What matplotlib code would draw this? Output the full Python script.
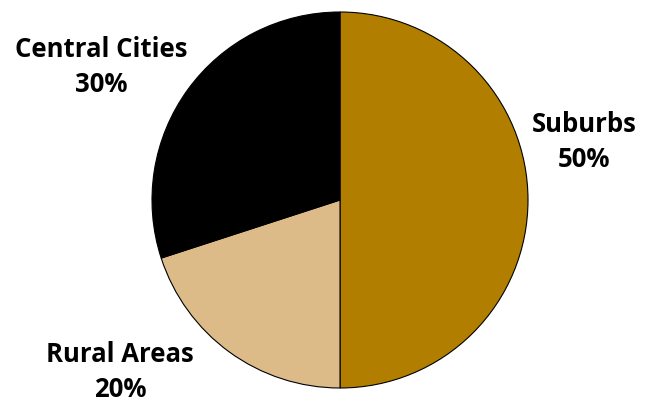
import matplotlib.pyplot as plt

labels = ['Suburbs', 'Rural Areas', 'Central Cities']
shares = [50, 20, 30]
colors = ['#B27E00', '#DCBB88', '#000000']

# label anchor points in pixel coords (x, y from top)
label_pos = [(584, 142), (120, 372), (101, 67)]

W, H = 646, 403
fig = plt.figure(figsize=(W / 100, H / 100), dpi=100)
ax = fig.add_axes([0, 0, 1, 1])

ax.pie(shares, colors=colors, startangle=90, counterclock=False,
       center=(340, H - 200), radius=188,
       wedgeprops=dict(edgecolor='black', linewidth=0.8))
ax.set_xlim(0, W)
ax.set_ylim(0, H)
ax.set_aspect('auto')
ax.axis('off')

for name, val, (x, y) in zip(labels, shares, label_pos):
    ax.text(x, H - y, f'{name}\n{val}%', ha='center', va='center',
            fontsize=18.5, fontweight='bold', family=['Open Sans', 'DejaVu Sans'],
            linespacing=1.35)

fig.savefig('out.png', dpi=100)
